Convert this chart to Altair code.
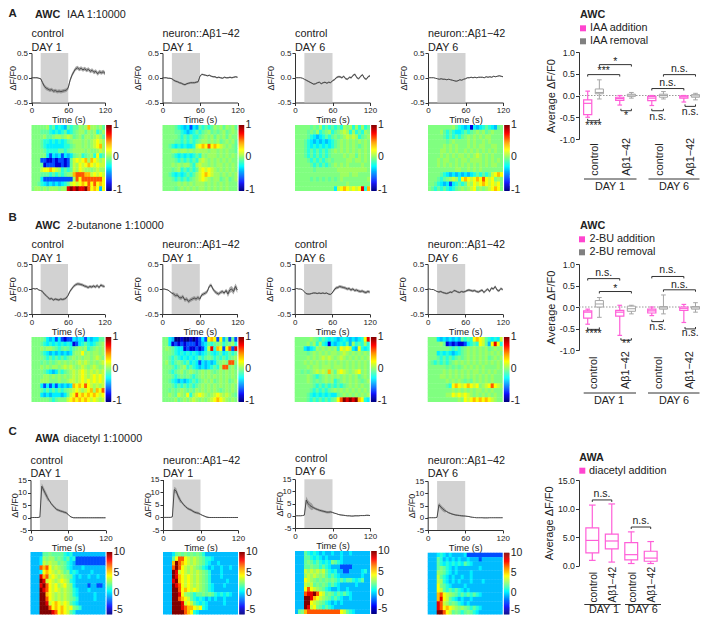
import altair as alt
import numpy as np
import pandas as pd

W, H = 692, 607
FONT = "Liberation Sans"
TXT = "#222222"
PINK = "#ff5fd8"
PINK_S = "#ff45cf"
GREY = "#a6a6a6"
GREY_S = "#808080"

# ---------- traces (mean dF/F0, even sampling over 0-120 s) ----------
trace_A1 = [0,0,0,0,-.01,-.02,-.1,-.17,-.21,-.23,-.25,-.24,-.27,-.26,-.28,-.27,-.28,-.27,-.26,-.25,-.2,-.05,.05,.12,.18,.2,.17,.19,.16,.18,.15,.17,.13,.15,.11,.13,.08,.12,.1,.12,.09]
trace_A2 = [0,0,0,-.01,-.01,-.02,-.05,-.07,-.08,-.1,-.11,-.13,-.14,-.12,-.11,-.1,-.1,-.1,-.09,-.08,.03,.07,.06,.05,.04,.05,.03,.02,.02,0,.01,0,-.01,.01,0,0,.01,0,.01,.02,.01]
trace_A3 = [0,0,0,0,-.01,-.03,-.05,-.07,-.09,-.11,-.13,-.12,-.1,-.09,-.12,-.1,-.09,-.11,-.09,-.1,-.06,-.04,0,.02,.02,0,.03,-.02,-.03,.01,0,.05,.07,0,-.02,.03,.06,-.01,-.03,.02,.04]
trace_A4 = [0,0,0,0,-.01,-.02,-.03,-.02,-.03,-.03,-.04,-.03,-.04,-.05,-.06,-.07,-.06,-.04,-.05,-.03,-.02,0,0,.01,0,.01,0,.01,.01,.01,0,.02,.01,.02,.01,.03,.02,.03,.04,.03,.02]
trace_B1 = [0,.01,0,.01,-.02,-.03,-.05,-.1,-.13,-.17,-.2,-.19,-.22,-.2,-.21,-.22,-.2,-.21,-.2,-.18,-.13,-.05,0,.05,.08,.1,.1,.09,.08,.06,.05,.03,.05,.04,.06,.04,.07,.03,.08,.06,.05]
trace_B2 = [0,0,-.01,-.02,-.05,-.08,-.1,-.13,-.12,-.17,-.18,-.15,-.22,-.2,-.25,-.22,-.2,-.18,-.2,-.17,-.2,-.12,-.1,-.08,-.05,.05,.08,0,-.05,-.08,-.1,-.07,-.05,-.08,-.03,-.1,-.02,0,-.05,.05,-.02]
trace_B3 = [0,.01,0,0,-.01,-.05,-.09,-.1,-.1,-.09,-.08,-.08,-.09,-.08,-.09,-.08,-.09,-.08,-.1,-.11,-.08,-.02,.02,.03,.05,.04,.03,.02,0,.01,-.02,0,-.03,-.02,-.04,-.05,-.04,-.06,-.07,-.05,-.06]
trace_B4 = [0,0,-.01,-.01,-.03,-.05,-.06,-.05,-.07,-.08,-.09,-.08,-.06,-.07,-.03,-.04,-.06,-.07,-.05,-.06,-.05,-.03,-.02,-.03,-.04,-.03,-.05,-.06,-.04,-.02,-.07,-.03,0,-.05,.02,0,.05,-.02,-.04,.01,-.01]
trace_C1 = [0,0,0,0,0,.2,12.5,11,9.5,8,6.8,5.6,4.7,3.9,3.2,2.9,2.6,2.4,2.1,1.9,1.3,.5,.1,-.1,-.1,-.1,-.1,-.1,-.1,-.1,-.1,-.1,-.1,-.1,-.1,-.1,-.1,-.1,-.1,-.1,-.1]
trace_C2 = [0,0,0,0,0,.2,11,10.5,8.5,7,6,5,4.3,3.6,3.2,2.9,2.4,2,1.8,1.6,1.2,.8,.5,.2,0,-.05,-.05,-.05,-.05,-.05,-.05,-.05,-.05,-.05,-.05,-.05,-.05,-.05,-.05,-.05,-.05]
trace_C3 = [0,0,0,0,.1,.3,6.5,5,4.2,3.7,3.3,2.9,2.6,2.3,2.1,1.9,1.7,1.5,1.5,1.6,1.4,1.1,.9,.6,.4,.3,.2,.1,0,0,-.1,-.1,0,0,0,.1,.1,.1,.2,.2,.1]
trace_C4 = [0,0,0,0,0,.2,5.3,4.4,3.6,3,2.6,2.1,1.8,1.5,1.3,1.1,1,.9,.8,.75,.7,.6,.5,.3,.2,.1,0,0,0,0,-.05,-.05,-.05,0,0,0,0,0,0,0,0]

# half-width of the grey band around each trace
sem_A1 = [.01]*6+[.04]*15+[.04]*20
sem_A2 = [.01]*6+[.02]*15+[.015]*20
sem_A3 = [.005]*6+[.015]*15+[.02]*20
sem_A4 = [.005]*6+[.01]*15+[.012]*20
sem_B1 = [.01]*6+[.025]*15+[.03]*20
sem_B2 = [.01]*6+[.04]*15+[.035]*14+[.06]*6
sem_B3 = [.005]*6+[.015]*15+[.03]*20
sem_B4 = [.005]*6+[.02]*15+[.025]*20
sem_C1 = [.1]*6+[1.2]*4+[.5]*10+[.2]*21
sem_C2 = [.1]*6+[1.1]*4+[.5]*10+[.2]*21
sem_C3 = [.1]*6+[1.4]*4+[.5]*10+[.2]*21
sem_C4 = [.1]*6+[.9]*4+[.3]*10+[.15]*21

# ---------- heat maps: one string per animal, one character per time bin ----------
heat_A1 = ["55555h4gj4j3g4ggh5h7hh5hg","555ggg4j4j4gj4g5hhgh5h4gh","5555hgg5hh5h6hg5hghh5h6hg","555g44j4j4j4g5hhh5h5h6k6h","555g4jjjjjj44g5hh5h5h6k7h","5555g4444gg4g5hhhh5h55h6h","55555j2j3j2j3jg5h4g5h4k4g","5552211212212g6k6k7h7k6h6","555g122211212g6hk6k7k6k66","5556kk7k6h4g4g6hk6hh5h6hh","555ggg4g4g4g5h7888776k6k6","555j2222222222h8k8888888k","55g4j3j3j3j4g6k6k7k8k8k7k","5hh5h5hhh5hh9a9a99a8k7k3k"]
heat_A2 = ["5555g4j3j2j3g4g4gh5hgh5hg","5555gg4j3j4g4g5hg5g5hg5h5","55555g4g4g44g5h5hgh5hgh55","5555gg4g4g4g5hh5h5hg5h5hg","55g4j4j4jj46k7k8k7k6h5h5g","555hh5hh5h5hhhh5hh5h5h55g","555g4j4j4j4g4h5hhh5h5h5h5","5555g4g4g4g4h6h5h5h5h5h55","555h5h5hhg4h6hh5h5hh5h5h5","555g5h4g4g4g6k6k6h5h5h5h5","55g4j4j4g4gh6k7k6hh5h5h5h","555g4g4g4g5h6k6h5hhg5hg5h","55555h5h5h5hhh5h5h5h5h555","5555g5h5h5h5hh5h5h5h5h555"]
heat_A3 = ["55555g5gh4g4g4g4h5h4h4h4g","5555g5gh4g5h4g5h6h4h4g4h5","5555g4j3j4g4g5g5h6h6h4g5h","555g4j3j3j3j4g5h5h5h5h5h5","555g4j4j4j4j4g5h5h5h5g5h5","555g4g4g4g4g5h5h5h5h5h5h5","555g4g4g4g4g5555h5hhgh5h5","5555g4g4g4g5g5555hh5hh5h5","55555g4g4g4g5h5h5h5555h55","555555g5555555hhhhhhhhhh5","555555555555555hhh5hh5555","55555g5g5g5g5g5h55555555h","55555555555555555h5555555","5555555555555j6k7k6k6k947"]
heat_A4 = ["55555555hg4j3j1j3j4g4j3g5","5555hg4g4jj4g4g5h5hg5h555","55555g4g4g4g5h5h5h5hh5555","555555g5h5555h5h55h5h5555","55555h5h5h555h5h5hh55hh55","5555hh5h5h55h5h5h5h5h5h55","5555h5h5h5hh5h5h6h5h5h555","555h5hh55h5hh5hhhh5h5h5h5","555h5h5h5h5h5h5h5h5h5hh55","555555555hh55h5h5h5555555","5555g4j3j3j3j3j4g4g4g6k7k","555g4g5h6h4k7k6k7k8k6k5h5","55g4j3j2j4g4g6hk6k7k6k6k5","5g4g4g4j4g5h5h6k5h5h6k7k5"]
heat_B1 = ["5555gj3j2j2122j3jj2j3jjgg","555g4j4j4j4j4j12j4g4j4g5h","555h5hh5g4g5g4g5h5h4g5h5h","555g4j3j3j3j3j5hhk5h5hh5h","5555g4g4g4g4g5h5h5hh5h6h5","555g5g5g5h5h5h5h6h6h5h5h6","555h5h5hh5h6h6h5h6h5h6h5h","5555g4j3jg4g5h6h6k6h6h6h6","5555hh5h5h5h5h6h6k6h6k6k6","555hhh555h55h66h6k6k6k6k6","555j2j2j2j3j3j7k7k8k6h6h6","555g4g4g4g4g5h6k6h6k7h7k8","555j3j3jjj3jg6k8k7k7k7k6k","555555g4g5556k7k7k7k6k6h6"]
heat_B2 = ["55j3001001012j2k7k2k3g2g2","55j12121222123jg4g5h4g5h4","5h5g4jj1211212j6947k2k829","555g4j4j4j4j3j4g4j4gj4g4g","55g4g4j4j4j4g4g5g4g4g4g5h","5hg4g5g4gj4j2j3j3jg5h5885","555g4g5h4g4j3j3j4g4h885hg","55g4g5hg5h5g5h5h5g5h5h5h5","555g4g5g5g4g5h5h5h5h5h5h5","55g4j3j3j4g4g5h5hg5h5hg5h","555g4g4g4g4g5h5h5h5h5h5h5","55g5g5h5g5gh5h5h5h5g5h5h5","55h5g6h5k4h6k6h5h6k6h6h5g","5555hg5h5h6h5h5h6k7k6h5h5"]
heat_B3 = ["55555h5g4g4j4j3j4j3j3j4k9","5555hgh4h4j1j3j4jg3h4g4h4","555j3j4h5h5h5h4k6k6j3k4j4","5555g5h5h5h5hh5h6h5h5h5h5","5555h5h5h6h6h5h6h5h5h5h5h","555h5h5h5h5h5h5h5h5h5h5h5","5555h5hh5hhh5hhh5h5h5h5h5","55g5g5h6h6h7hg6k6h5h6k5h5","5555h5g4g5h5h5h5h5h5hg5h5","5555h5g5g5h5h4g5h5h5h5g5h","555555g4g4g4g4g4g5h5h5h55","55555g4g4g4g5h5h5h5h5h5h5","5555g4j4j4j4jjg5h5h5h5h5h","5555g4g4g4g4g5k8a9a9a7k4j"]
heat_B4 = ["555j3j3j3j3g4g4k7k6g4j4j6","5555hg1212112j4g4k6g3k9k4","5555555g4g4g5h5h5h5hg5h5h","555j4j4j3j4g5h5h5h5h5h5h5","555g4g4g4g5g5h5h5h5hg5h5h","5g4g4g4g5h5h5h5h5h5h5h5h5","555555g5g5g5h5h5h5h5555h5","55555h5h5h5h5h5hh5h5h5h55","5555hh5h5h5h5h5h5h5h5h555","555555h5h5h5g5gh5h5h5h555","555555g4k7k6k7k6k5h6k8k6h","55555555h5h5h5h5hh5h5h555","555555hhk6k6k6h5h5h5h5h55","5555555555h5k6k7k7k7k6h55"]
heat_C1 = ["3333gg5gggg4j43333333333","333jh5hhg5g4gj42222222222","333j6h6hhg5g4j32222222222","333878kh6h5g4j333j3333333","333jk7k6h6hg5j4j3333j3333","3339786k6h6h5gj3j33j33j33","333a96k6h6k6h4j3333333333","3339a8k6kh6kh5j3333233223","333a98k6k6h6h54j333j33333","333aa7k6h6h6h54j33333j333","333aa8k6h6h6h5g433333j333","333aa96k7k6k6g4j333333333","333aaa8k7k7k6k5g433333333","333aaaa98k7k6g43333333333"]
heat_C2 = ["333jg5g5g5g5g433333333333","333gk88k6h6h5g44j33333333","3337a87k6h6h5g4j33j333333","3338a8k6h6h5g4j3j33j33j33","333a96k6h6h6h5g4333j33333","333a97k6k6h6h5g4333j33333","3339a7k6k6h6h5g433333j333","333a98k6k6h6h5g4j333j3333","333aa8k7k6k6h5g4j33333333","333aa9kh5g4gg5g5g4j4j4j33","333aa87k6g4j4j3j3j33j3333","333aaa96k6g4j4j33333j3333","333aaa9877k6k4j3333333333","333aaaa87k4j3333333333333"]
heat_C3 = ["333g4j4j3j33j33j33j333333","333gg4j4j3j3333j333333333","333g5g4g4j4j5g4j333333333","333gg5gg4g4j3332222333333","3336h6h6h6g4j433223333j43","333h6h6h5hg4g4j3333333j33","333k6h5g5g5g5g4g4gg4j4g33","3336h6g5g5g4g4j33333j3333","333k8k6h5g4j33j33j3333333","333899a8k6g5g4g4g4j333333","333aa97k6h5g4g4j33j333333","333aak6h5g4j3j3j333333333","333a96k5g4g4j333333333333","3g5788888888888k6g4j33333"]
heat_C4 = ["333j4j3j3333j222222222222","333g43j3j3j33j33323333333","333g4j4j4j4jg4j3333333333","333g5g4j3j3333333j3333333","333h5g4j3j3333j3333333333","3336g4j3j33j33j3333333333","3336h4j3j3j333j333j333333","333k5g4j3333j333333333333","333k6g4g4g4j3j33333333333","33378k6h5g4g4g4g4j3333333","33379k6g4j3j33j3333333333","333986hg5g4j3j33333333333","33398k7k6h5h5g4g4j3333333","333aa8k6g5g4g5g4j33333333"]
LEVEL = {"0":0,"1":.1,"2":.2,"3":.31,"j":.36,"4":.41,"g":.47,"5":.5,"h":.53,"6":.57,"k":.62,"7":.7,"8":.8,"9":.9,"a":1.0}

# ---------- box plots: max, q3, median, q1, min ----------
box_A = [[.10,-.10,-.18,-.44,-.50],[.36,.15,.07,.04,-.08],[0,-.04,-.07,-.11,-.22],[.07,.03,.01,-.02,-.06],
         [0,-.02,-.06,-.12,-.23],[.09,.03,0,-.04,-.08],[0,-.01,-.03,-.06,-.15],[.05,.02,-.01,-.04,-.10]]
box_B = [[-.05,-.09,-.12,-.26,-.40],[.22,.15,.07,0,-.24],[.04,-.08,-.12,-.21,-.66],[.04,.02,-.04,-.10,-.16],
         [0,-.05,-.09,-.14,-.20],[.28,.01,-.02,-.05,-.16],[.06,0,-.03,-.08,-.36],[.10,.01,-.02,-.05,-.12]]
box_C = [[10.6,6.6,4.4,2.2,.9],[10.8,5.5,4.3,2.9,.6],[5.9,4.0,1.9,1.0,.35],[4.2,2.5,1.3,.75,.35]]
box_pos8 = [0,1,2.75,3.75,5.5,6.5,8.25,9.25]
box_pos4 = [0,1,2,3]
# brackets: from, to, level, label, label level
sig_A = [(1,3.75,.71,"*",.78),(0,2.75,.48,"***",.56),(6.5,9.25,.48,"n.s.",.61),(5.5,8.25,.16,"n.s.",.29),
         (0,1,-.58,"****",-.71),(2.85,3.75,-.35,"*",-.46),(5.5,6.5,-.35,"n.s.",-.49),(8.35,9.25,-.25,"n.s.",-.39)]
sig_B = [(0,2.75,.66,"n.s.",.79),(1,3.75,.36,"*",.41),(5.5,8.25,.71,"n.s.",.85),(6.5,9.25,.40,"n.s.",.51),
         (0,1,-.52,"****",-.62),(2.85,3.75,-.77,"**",-.87),(5.5,6.5,-.34,"n.s.",-.47),(8.35,9.25,-.51,"n.s.",-.60)]
sig_C = [(0,1,11.5,"n.s.",12.6),(2,3,6.75,"n.s.",7.85)]

layers = []

def px(a): return a - 8

def label(text, x, y, size=10.8, weight="normal", angle=0, align="left", baseline="middle", color=TXT):
    layers.append(
        alt.Chart(alt.Data(values=[{"s": text}]))
        .mark_text(font=FONT, fontSize=size, fontWeight=weight, angle=angle, align=align, baseline=baseline, color=color)
        .encode(text="s:N", x=alt.value(px(x)), y=alt.value(px(y)))
    )

JET_D = [0, .11, .125, .375, .5, .625, .75, .875, 1]
JET_R = ["#000080", "#0000e0", "#0000ff", "#00ffff", "#80ff80", "#ffff00", "#ff9000", "#ff0000", "#800000"]

def line_panel(x0, x1, ytop, ybot, trace, sem, dom, ticks, fmt, ttl_pad=2):
    xs = alt.Scale(domain=[0, 120], range=[px(x0), px(x1)], nice=False, zero=False)
    ys = alt.Scale(domain=dom, range=[px(ybot), px(ytop)], nice=False, zero=False)
    n = len(trace)
    tt = [i * 120 / (n - 1) for i in range(n)]
    df = pd.DataFrame({"t": tt, "v": trace, "lo": np.array(trace) - np.array(sem), "hi": np.array(trace) + np.array(sem)})
    stim = pd.DataFrame({"a": [15], "b": [60], "c": [dom[0]], "d": [dom[1]]})
    xax = alt.Axis(values=[0, 60, 120], orient="bottom", offset=px(ybot) - H, title="Time (s)", titleFontSize=9.3,
                   titlePadding=1, labelFontSize=8, tickSize=3, grid=False, labelFlush=False)
    yax = alt.Axis(values=ticks, orient="left", offset=-px(x0), title="ΔF/F0", titleFontSize=9, titlePadding=ttl_pad,
                   labelFontSize=8, tickSize=3, grid=False, format=fmt, labelExpr="replace(datum.label,'\u2212','-')", labelFlush=False)
    layers.append(alt.Chart(stim).mark_rect(color="#d2d2d2").encode(
        x=alt.X("a:Q", scale=xs, axis=xax), x2="b:Q", y=alt.Y("c:Q", scale=ys, axis=yax), y2="d:Q"))
    layers.append(alt.Chart(df).mark_area(color="#8c8c8c", opacity=.75).encode(
        x=alt.X("t:Q", scale=xs, axis=None), y=alt.Y("lo:Q", scale=ys, axis=None), y2="hi:Q"))
    layers.append(alt.Chart(df).mark_line(color="#4a4a4a", strokeWidth=1).encode(
        x=alt.X("t:Q", scale=xs, axis=None), y=alt.Y("v:Q", scale=ys, axis=None)))

def heat_panel(x0, x1, ytop, ybot, rows, cbticks):
    nrow = len(rows)
    ncol = 25
    recs = []
    for r, s in enumerate(rows):
        s = s.ljust(ncol, s[-1])[:ncol]
        for c, ch in enumerate(s):
            recs.append({"c0": c, "c1": min(c + 1.15, ncol), "r0": r, "r1": min(r + 1.08, nrow), "t": LEVEL[ch]})
    df = pd.DataFrame(recs)
    xs = alt.Scale(domain=[0, ncol], range=[px(x0), px(x1)], nice=False, zero=False)
    ys = alt.Scale(domain=[0, nrow], range=[px(ytop), px(ybot)], nice=False, zero=False)
    cs = alt.Scale(domain=JET_D, range=JET_R, interpolate="rgb")
    layers.append(alt.Chart(df).mark_rect().encode(
        x=alt.X("c0:Q", scale=xs, axis=None), x2="c1:Q", y=alt.Y("r0:Q", scale=ys, axis=None), y2="r1:Q",
        color=alt.Color("t:Q", scale=cs, legend=None)))
    # colour bar
    steps = np.linspace(0, 1, 65)
    cb = pd.DataFrame({"a": steps[:-1], "b": np.minimum(steps[1:] + .006, 1), "t": (steps[:-1] + steps[1:]) / 2, "u": 0, "w": 1})
    xb = alt.Scale(domain=[0, 1], range=[px(x1 + 1.2), px(x1 + 6.7)], nice=False, zero=False)
    yb = alt.Scale(domain=[0, 1], range=[px(ybot), px(ytop)], nice=False, zero=False)
    layers.append(alt.Chart(cb).mark_rect().encode(
        x=alt.X("u:Q", scale=xb, axis=None), x2="w:Q", y=alt.Y("a:Q", scale=yb, axis=None), y2="b:Q",
        color=alt.Color("t:Q", scale=cs, legend=None)))
    for txt, frac in cbticks:
        label(txt, x1 + 8, ytop + (ybot - ytop) * frac, size=10.5)

def box_frame(xa, xb, posn, boxes, ytop, ybot, dom, half, cap):
    xs = alt.Scale(domain=[posn[0], posn[-1]], range=[px(xa), px(xb)], nice=False, zero=False)
    ys = alt.Scale(domain=dom, range=[px(ybot), px(ytop)], nice=False, zero=False)
    arr = np.array(boxes)
    df = pd.DataFrame({"p": posn, "max": arr[:, 0], "q3": arr[:, 1], "med": arr[:, 2], "q1": arr[:, 3], "min": arr[:, 4]})
    df["l"] = df.p - half; df["r"] = df.p + half; df["cl"] = df.p - cap; df["cr"] = df.p + cap
    df["kind"] = ["a", "r"] * 4 if len(posn) == 8 else ["a"] * 4
    return xs, ys, df

def draw_box(xs, ys, df, color, width=1.2):
    for fld in ["max", "min"]:
        layers.append(alt.Chart(df).mark_rule(color=color, strokeWidth=width).encode(
            x=alt.X("cl:Q", scale=xs, axis=None), x2="cr:Q", y=alt.Y(f"{fld}:Q", scale=ys, axis=None)))
    layers.append(alt.Chart(df).mark_rule(color=color, strokeWidth=width).encode(
        x=alt.X("p:Q", scale=xs, axis=None), y=alt.Y("min:Q", scale=ys, axis=None), y2="max:Q"))
    layers.append(alt.Chart(df).mark_rect(fill="white", stroke=color, strokeWidth=width).encode(
        x=alt.X("l:Q", scale=xs, axis=None), x2="r:Q", y=alt.Y("q1:Q", scale=ys, axis=None), y2="q3:Q"))
    layers.append(alt.Chart(df).mark_rule(color=color, strokeWidth=width).encode(
        x=alt.X("l:Q", scale=xs, axis=None), x2="r:Q", y=alt.Y("med:Q", scale=ys, axis=None)))

def draw_sig(xs, ys, sig, dtick):
    recs, labs = [], []
    for i, (a, b, lev, s, lv) in enumerate(sig):
        # brackets above the boxes hang their feet down, those below point up
        d = -dtick if lev > 0 else dtick
        for j, (xv, yv) in enumerate([(a, lev + d), (a, lev), (b, lev), (b, lev + d)]):
            recs.append({"b": i, "o": j, "x": xv, "y": yv})
        labs.append({"x": (a + b) / 2, "y": lv, "s": s})
    layers.append(alt.Chart(pd.DataFrame(recs)).mark_line(color="#333333", strokeWidth=1).encode(
        x=alt.X("x:Q", scale=xs, axis=None), y=alt.Y("y:Q", scale=ys, axis=None), detail="b:N", order="o:Q"))
    ldf = pd.DataFrame(labs)
    layers.append(alt.Chart(ldf).mark_text(font=FONT, fontSize=10.5, color=TXT, baseline="middle").encode(
        x=alt.X("x:Q", scale=xs, axis=None), y=alt.Y("y:Q", scale=ys, axis=None), text="s:N"))

def box_axis(x, ytop, ybot, dom, ticks):
    ys = alt.Scale(domain=dom, range=[px(ybot), px(ytop)], nice=False, zero=False)
    xs = alt.Scale(domain=[0, 1], range=[0, 1], nice=False, zero=False)
    d = pd.DataFrame({"u": [0], "a": [dom[0]], "b": [dom[1]]})
    yax = alt.Axis(values=ticks, orient="left", offset=-px(x), title="Average ΔF/F0", titleFontSize=11, titlePadding=3,
                   labelFontSize=8.8, tickSize=3.5, grid=False, format=".1f", labelExpr="replace(datum.label,'\u2212','-')", labelFlush=False)
    layers.append(alt.Chart(d).mark_rule(opacity=0).encode(
        x=alt.X("u:Q", scale=xs, axis=None), y=alt.Y("a:Q", scale=ys, axis=yax), y2="b:Q"))

# ---------- panels ----------
col_A = [31.5, 162.5, 295, 428]
col_B = [31.5, 162.3, 294.7, 427.7]
col_C = [30.5, 163, 295, 427.7]
end_A = [105, 237.5, 370, 503]
end_B = [104.5, 237.3, 369.7, 502.7]
end_C = [105.5, 238, 370, 502.7]
head = [("control", "DAY 1"), ("neuron::Aβ1−42", "DAY 1"), ("control", "DAY 6"), ("neuron::Aβ1−42", "DAY 6")]
cb1 = [("1", .0), ("0", .49), ("-1", .98)]
cb2 = [("10", .0), ("5", .33), ("0", .66), ("-5", .92)]

for i, (tr, se, hm) in enumerate(zip([trace_A1, trace_A2, trace_A3, trace_A4], [sem_A1, sem_A2, sem_A3, sem_A4], [heat_A1, heat_A2, heat_A3, heat_A4])):
    x0, x1 = col_A[i], end_A[i]
    line_panel(x0, x1, 53, 102.5, tr, se, [-.5, .5], [-.5, 0, .5], ".1f", ttl_pad=-4 if i == 0 else 2)
    heat_panel(x0, x1, 125, 191, hm, cb1)
    label(head[i][0], x0, 34); label(head[i][1], x0, 47.7)

for i, (tr, se, hm) in enumerate(zip([trace_B1, trace_B2, trace_B3, trace_B4], [sem_B1, sem_B2, sem_B3, sem_B4], [heat_B1, heat_B2, heat_B3, heat_B4])):
    x0, x1 = col_B[i], end_B[i]
    line_panel(x0, x1, 264, 314, tr, se, [-.5, .5], [-.5, 0, .5], ".1f", ttl_pad=-4 if i == 0 else 2)
    heat_panel(x0, x1, 337, 402, hm, cb1)
    label(head[i][0], x0, 245.3); label(head[i][1], x0, 259)

ys_C = [(480, 530, 552, 614.5, 460.7, 474), (479.5, 530, 552, 614.5, 460.7, 474), (479.3, 528, 551, 614, 459, 472.3), (481, 530, 552.7, 614.5, 461.3, 474.3)]
for i, (tr, se, hm) in enumerate(zip([trace_C1, trace_C2, trace_C3, trace_C4], [sem_C1, sem_C2, sem_C3, sem_C4], [heat_C1, heat_C2, heat_C3, heat_C4])):
    x0, x1 = col_C[i], end_C[i]
    yt, yb, ht, hb, t1, t2 = ys_C[i]
    line_panel(x0, x1, yt, yb, tr, se, [-5, 15], [-5, 0, 5, 10, 15], "d", ttl_pad=-2)
    heat_panel(x0, x1, ht, hb, hm, cb2)
    label(head[i][0], x0, t1); label(head[i][1], x0, t2)

# section headers
label("A", 8.5, 14, size=11.5, weight="bold")
label("B", 8.5, 218, size=11.5, weight="bold")
label("C", 8.5, 432, size=11.5, weight="bold")
label("AWC", 35, 15, weight="bold"); label("IAA 1:10000", 67, 15)
label("AWC", 35, 226, weight="bold"); label("2-butanone 1:10000", 67, 226)
label("AWA", 35, 439.3, weight="bold"); label("diacetyl 1:10000", 63.5, 439.3)

def legend_sq(x, y, color):
    layers.append(alt.Chart(alt.Data(values=[{"k": 1}])).mark_rect(color=color).encode(
        x=alt.value(px(x)), x2=alt.value(px(x + 6)), y=alt.value(px(y - 3)), y2=alt.value(px(y + 3))))

def zero_line(x0, x1, ytop, ybot):
    ys = alt.Scale(domain=[-1, 1], range=[px(ybot), px(ytop)], nice=False, zero=False)
    xs = alt.Scale(domain=[0, 1], range=[px(x0), px(x1)], nice=False, zero=False)
    d = pd.DataFrame({"a": [0], "b": [1], "v": [0]})
    layers.append(alt.Chart(d).mark_rule(color="#999999", strokeDash=[1.5, 1.5], strokeWidth=1).encode(
        x=alt.X("a:Q", scale=xs, axis=None), x2="b:Q", y=alt.Y("v:Q", scale=ys, axis=None)))

def day_rule(x0, x1, y):
    layers.append(alt.Chart(alt.Data(values=[{"k": 1}])).mark_rule(color="#333333", strokeWidth=1).encode(
        x=alt.value(px(x0)), x2=alt.value(px(x1)), y=alt.value(px(y))))

# box panel A
box_axis(579, 52, 139, [-1, 1], [-1, -.5, 0, .5, 1])
label("AWC", 580, 15, weight="bold")
legend_sq(580, 28.3, PINK_S); label("IAA addition", 590, 28.3)
legend_sq(580, 41.3, GREY_S); label("IAA removal", 590, 41.3)
zero_line(579, 699.5, 52, 139)
xs, ys, df = box_frame(587.7, 695.5, box_pos8, box_A, 52, 139, [-1, 1], .35, .2)
draw_box(xs, ys, df[df.kind == "r"], GREY, 1)
draw_box(xs, ys, df[df.kind == "a"], PINK, 1.2)
draw_sig(xs, ys, sig_A, .045)
for x_, t_ in zip([594.7, 626.5, 659.5, 690.5], ["control", "Aβ1−42", "control", "Aβ1−42"]):
    label(t_, x_, 175.7, angle=270, align="left")
day_rule(584, 636.5, 179); day_rule(648.5, 699.5, 179)
label("DAY 1", 610, 187.2, align="center"); label("DAY 6", 674, 187.2, align="center")

# box panel B
box_axis(579, 264, 350, [-1, 1], [-1, -.5, 0, .5, 1])
label("AWC", 580, 225.7, weight="bold")
legend_sq(579, 239.3, PINK_S); label("2-BU addition", 589.5, 239.3)
legend_sq(579, 252.3, GREY_S); label("2-BU removal", 589.5, 252.3)
zero_line(579, 699.5, 264, 350)
xs, ys, df = box_frame(587.7, 695.5, box_pos8, box_B, 264, 350, [-1, 1], .35, .2)
draw_box(xs, ys, df[df.kind == "r"], GREY, 1)
draw_box(xs, ys, df[df.kind == "a"], PINK, 1.2)
draw_sig(xs, ys, sig_B, .045)
for x_, t_ in zip([594, 626.3, 658.7, 690], ["control", "Aβ1−42", "control", "Aβ1−42"]):
    label(t_, x_, 389, angle=270, align="left")
day_rule(583.7, 636, 393); day_rule(648, 699.5, 393)
label("DAY 1", 609, 400.5, align="center"); label("DAY 6", 674, 400.5, align="center")

# box panel C
box_axis(579, 480, 565.5, [0, 15], [0, 5, 10, 15])
label("AWA", 579.3, 457.7, weight="bold")
legend_sq(579.3, 470.7, PINK_S); label("diacetyl addition", 589, 470.7)
xs, ys, df = box_frame(592.3, 650.7, box_pos4, box_C, 480, 565.5, [0, 15], .33, .17)
draw_box(xs, ys, df, PINK, 1.2)
draw_sig(xs, ys, sig_C, .35)
for x_, t_ in zip([594, 613.3, 632.7, 651.7], ["control", "Aβ1−42", "control", "Aβ1−42"]):
    label(t_, x_, 602.5, size=10.2, angle=270, align="left")
day_rule(584.3, 620.7, 604.5); day_rule(625, 661, 604.5)
label("DAY 1", 604, 609.7, align="center"); label("DAY 6", 642.7, 609.7, align="center")

chart = (
    alt.layer(*layers)
    .resolve_scale(x="independent", y="independent", color="independent")
    .resolve_axis(x="independent", y="independent")
    .properties(width=W, height=H, padding=0, background="white", autosize=alt.AutoSizeParams(type="none"))
    .configure_view(stroke=None)
    .configure_axis(labelFont=FONT, titleFont=FONT, labelColor=TXT, titleColor=TXT, domainColor="#333333",
                    tickColor="#333333", titleFontWeight="normal", labelOverlap=False, labelPadding=1, domainWidth=1, tickWidth=1)
)
chart.save("out.html", embed_options={"renderer": "svg", "actions": False})
